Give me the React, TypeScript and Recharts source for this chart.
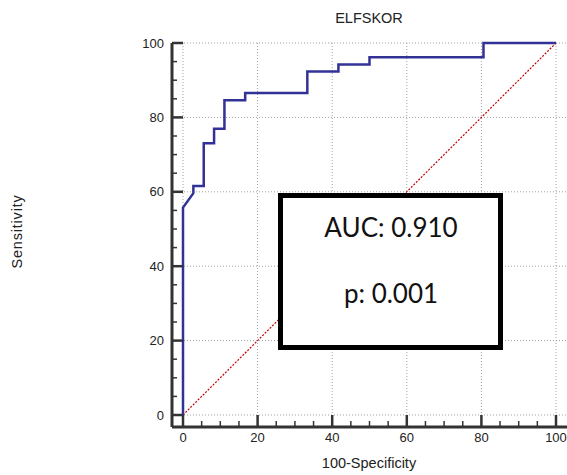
import React from 'react'
import {
  ComposedChart,
  Line,
  XAxis,
  YAxis,
  CartesianGrid,
} from 'recharts'

// ROC operating points (100-Specificity, Sensitivity)
const fpr = [0, 0, 2.78, 2.78, 5.56, 5.56, 8.33, 8.33, 11.11, 11.11, 16.67, 16.67, 33.33, 33.33, 41.67, 41.67, 50, 50, 80.56, 80.56, 100]
const tpr = [0, 55.77, 59.62, 61.54, 61.54, 73.08, 73.08, 76.92, 76.92, 84.62, 84.62, 86.54, 86.54, 92.31, 92.31, 94.23, 94.23, 96.15, 96.15, 100, 100]

// chance line
const diagX = [0, 100]
const diagY = [0, 100]

const ticks = [0, 5, 10, 15, 20, 25, 30, 35, 40, 45, 50, 55, 60, 65, 70, 75, 80, 85, 90, 95, 100]
const gridValues = [0, 20, 40, 60, 80, 100]
const labelValues = [0, 20, 40, 60, 80, 100]

const title = 'ELFSKOR'
const xLabel = '100-Specificity'
const yLabel = 'Sensitivity'
const aucText = 'AUC: 0.910'
const pText = 'p: 0.001'

const roc = fpr.map((x, i) => ({ x, y: tpr[i] }))
const diag = diagX.map((x, i) => ({ x, y: diagY[i] }))

const FONT = '"Liberation Sans", Arial, sans-serif'
const AXIS = '#333333'

function YTick(props: any) {
  const { x, y, payload } = props
  const major = labelValues.includes(payload.value)
  return (
    <g>
      <line x1={x} x2={x + (major ? 11 : 5)} y1={y} y2={y} stroke={AXIS} strokeWidth={major ? 2.5 : 1.5} />
      {major && (
        <text x={x - 8} y={y + 4.6} textAnchor="end" fontSize={13} fontFamily={FONT} fill="#222">
          {payload.value}
        </text>
      )}
    </g>
  )
}

function XTick(props: any) {
  const { x, y, payload } = props
  const major = labelValues.includes(payload.value)
  return (
    <g>
      <line x1={x} x2={x} y1={y} y2={y - (major ? 12 : 6)} stroke={AXIS} strokeWidth={major ? 2.5 : 1.5} />
      {major && (
        <text x={x} y={y + 15} textAnchor="middle" fontSize={13} fontFamily={FONT} fill="#222">
          {payload.value}
        </text>
      )}
    </g>
  )
}

export default function App() {
  return (
    <div style={{ position: 'absolute', left: 0, top: 0, width: 567, height: 475, background: '#fff' }}>
      <ComposedChart width={567} height={475} margin={{ top: 43, right: 0, bottom: 0, left: 0 }}>
        <CartesianGrid
          horizontalValues={gridValues}
          verticalValues={gridValues}
          stroke="#a0a0a0"
          strokeDasharray="1 2"
        />
        <XAxis
          dataKey="x"
          type="number"
          domain={[0, 100]}
          ticks={ticks}
          interval={0}
          height={48}
          padding={{ left: 11, right: 11 }}
          tickSize={0}
          tickMargin={0}
          tickLine={false}
          axisLine={{ stroke: AXIS, strokeWidth: 3 }}
          tick={<XTick />}
        />
        <YAxis
          type="number"
          domain={[0, 100]}
          ticks={ticks}
          interval={0}
          width={172}
          padding={{ top: 0, bottom: 12 }}
          tickSize={0}
          tickMargin={0}
          tickLine={false}
          axisLine={{ stroke: AXIS, strokeWidth: 3 }}
          tick={<YTick />}
        />
        <Line
          data={diag}
          dataKey="y"
          type="linear"
          stroke="#c00000"
          strokeWidth={1.2}
          strokeDasharray="2 1.5"
          dot={false}
          isAnimationActive={false}
        />
        <Line
          data={roc}
          dataKey="y"
          type="linear"
          stroke="#323296"
          strokeWidth={2.5}
          dot={false}
          isAnimationActive={false}
        />
      </ComposedChart>
      <svg
        width={567}
        height={475}
        style={{ position: 'absolute', left: 0, top: 0, pointerEvents: 'none' }}
      >
        <text x={369} y={23} textAnchor="middle" fontSize={14.5} fontFamily={FONT} fill="#222">
          {title}
        </text>
        <text x={369} y={468} textAnchor="middle" fontSize={14.5} fontFamily={FONT} fill="#222">
          {xLabel}
        </text>
        <text
          x={22}
          y={231.5}
          textAnchor="middle"
          fontSize={14.5}
          letterSpacing={0.8}
          fontFamily={FONT}
          fill="#222"
          transform="rotate(-90 22 231.5)"
        >
          {yLabel}
        </text>
        <rect x={280.5} y={195.5} width={220} height={152} fill="#fff" stroke="#000" strokeWidth={5} />
        <text x={391} y={237} textAnchor="middle" fontSize={26} fontFamily="Lato, 'Open Sans', sans-serif" fill="#111">
          {aucText}
        </text>
        <text x={391} y={303} textAnchor="middle" fontSize={26} fontFamily="Lato, 'Open Sans', sans-serif" fill="#111">
          {pText}
        </text>
      </svg>
    </div>
  )
}
